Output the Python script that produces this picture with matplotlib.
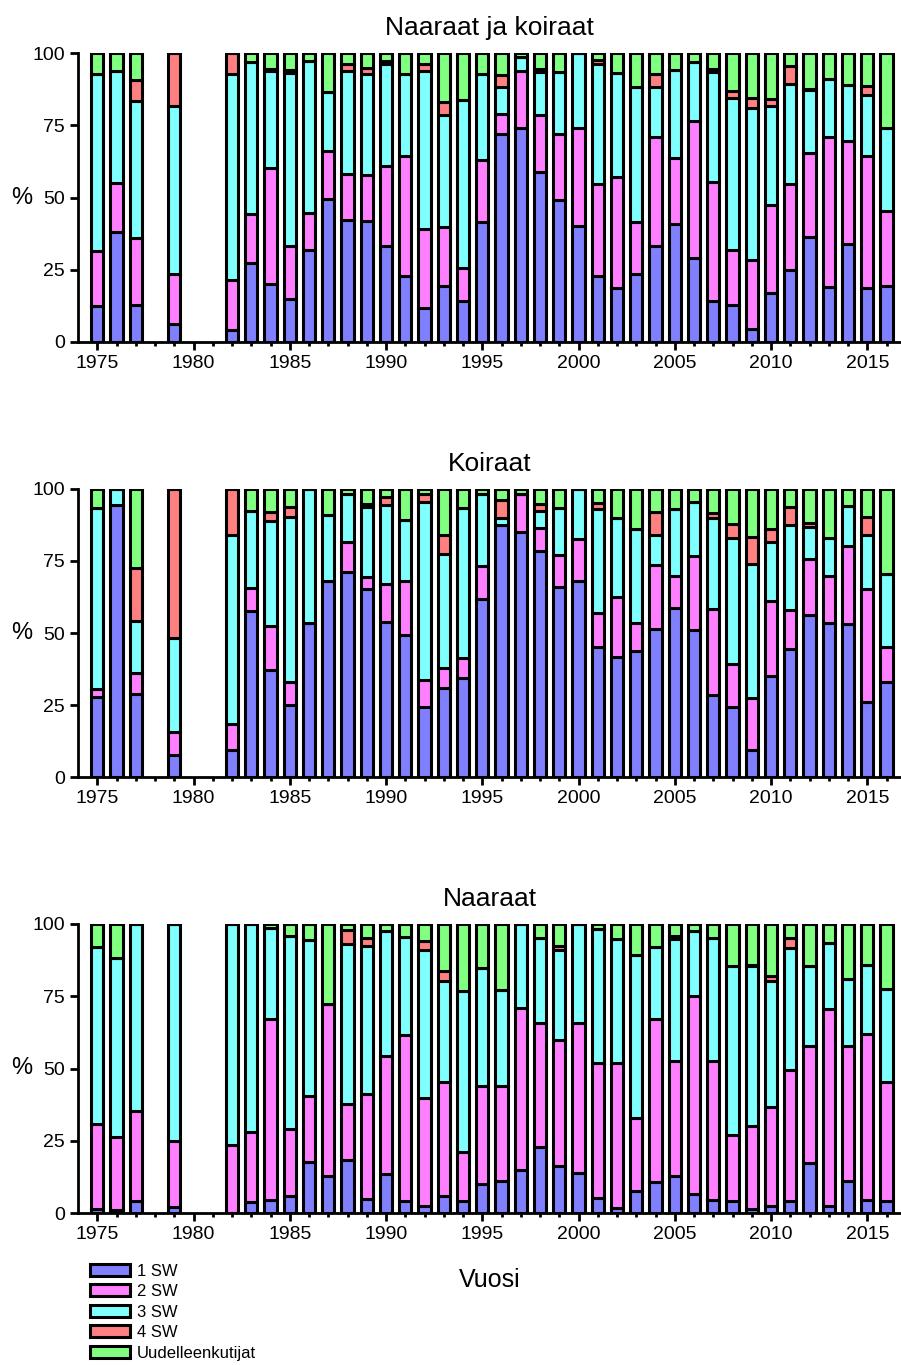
import numpy as np
import matplotlib
matplotlib.use("Agg")
import matplotlib.pyplot as plt

plt.rcParams['font.family'] = ['Liberation Sans', 'DejaVu Sans']

years = [1975, 1976, 1977, 1979, 1982, 1983, 1984, 1985, 1986, 1987, 1988, 1989,
         1990, 1991, 1992, 1993, 1994, 1995, 1996, 1997, 1998, 1999, 2000, 2001,
         2002, 2003, 2004, 2005, 2006, 2007, 2008, 2009, 2010, 2011, 2012, 2013,
         2014, 2015, 2016]

labels = ["1 SW", "2 SW", "3 SW", "4 SW", "Uudelleenkutijat"]
colors = ["#8080ff", "#ff80ff", "#80ffff", "#ff8080", "#80ff80"]
titles = ["Naaraat ja koiraat", "Koiraat", "Naaraat"]

# Naaraat ja koiraat (%)
all_sw1 = [12.5, 38.2, 12.7, 6.1, 4.3, 27.2, 20.2, 14.9, 32.0, 49.4, 42.2, 41.7,
           33.3, 23.0, 11.9, 19.3, 14.2, 41.6, 71.9, 74.2, 58.7, 49.0, 40.1, 23.0,
           18.8, 23.4, 33.1, 40.9, 29.1, 14.1, 12.8, 4.5, 16.8, 24.9, 36.2, 19.1,
           33.8, 18.7, 19.3]
all_sw2 = [19.1, 16.7, 23.3, 17.3, 17.1, 17.1, 40.1, 18.3, 12.5, 16.7, 16.1, 16.2,
           27.7, 41.4, 27.1, 20.4, 11.5, 21.4, 7.1, 19.4, 20.0, 23.0, 34.1, 31.7,
           38.2, 18.1, 37.8, 22.6, 47.4, 41.4, 19.1, 23.9, 30.7, 29.7, 29.3, 51.8,
           35.9, 45.7, 26.1]
all_sw3 = [61.3, 38.7, 47.5, 58.1, 71.5, 52.6, 33.5, 59.9, 52.6, 20.4, 35.5, 35.0,
           35.3, 28.5, 54.6, 38.7, 58.0, 29.8, 9.4, 4.9, 14.7, 21.3, 25.8, 41.5,
           36.2, 46.8, 17.3, 30.7, 20.5, 37.8, 52.5, 52.5, 34.0, 34.6, 21.8, 20.1,
           19.1, 20.9, 28.8]
all_sw4 = [0, 0, 7.0, 18.5, 7.1, 0, 0.8, 1.1, 0, 0, 2.5, 1.9,
           0.9, 0, 2.7, 4.8, 0, 0, 4.1, 0, 1.1, 0, 0, 1.3,
           0, 0, 4.4, 0, 0, 1.0, 2.3, 3.5, 2.5, 6.2, 0.3, 0,
           0, 3.4, 0]
all_rep = [7.1, 6.4, 9.5, 0, 0, 3.1, 5.4, 5.8, 2.9, 13.5, 3.7, 5.2,
           2.8, 7.1, 3.7, 16.8, 16.3, 7.2, 7.5, 1.5, 5.5, 6.7, 0, 2.5,
           6.8, 11.7, 7.4, 5.8, 3.0, 5.7, 13.3, 15.6, 16.0, 4.6, 12.4, 9.0,
           11.2, 11.3, 25.8]

# Koiraat (%)
m_sw1 = [27.7, 94.5, 28.9, 7.7, 9.5, 57.7, 37.3, 24.9, 53.4, 68.1, 71.1, 65.3,
         53.8, 49.4, 24.3, 31.0, 34.3, 61.7, 87.5, 85.2, 78.6, 66.1, 67.9, 45.0,
         41.8, 43.6, 51.4, 58.6, 50.9, 28.6, 24.2, 9.5, 35.1, 44.5, 56.3, 53.4,
         53.2, 26.0, 32.9]
m_sw2 = [2.9, 0, 7.1, 7.8, 8.9, 7.8, 15.0, 8.0, 0, 0, 10.6, 4.1,
         13.1, 18.8, 9.3, 6.8, 6.9, 11.7, 0, 13.0, 7.8, 11.0, 14.8, 12.1,
         20.6, 9.8, 22.2, 11.3, 25.9, 29.8, 15.0, 17.9, 26.1, 13.4, 19.3, 16.4,
         27.0, 39.3, 12.4]
m_sw3 = [62.8, 5.5, 18.0, 32.7, 65.6, 27.0, 36.7, 57.5, 46.6, 22.7, 16.7, 24.4,
         27.6, 21.0, 61.8, 39.5, 52.3, 24.9, 2.6, 0, 6.0, 16.2, 17.3, 36.0,
         27.4, 32.6, 10.4, 23.2, 18.8, 31.4, 43.9, 46.7, 20.5, 29.6, 11.3, 13.1,
         14.0, 18.7, 25.2]
m_sw4 = [0, 0, 18.7, 51.8, 16.0, 0, 3.1, 3.4, 0, 0, 0, 1.1,
         2.6, 0, 2.8, 6.6, 0, 0, 6.1, 0, 2.5, 0, 0, 1.9,
         0, 0, 7.9, 0, 0, 2.0, 4.9, 9.1, 4.4, 6.1, 1.2, 0,
         0, 6.2, 0]
m_rep = [6.6, 0, 27.3, 0, 0, 7.5, 7.9, 6.2, 0, 9.2, 1.6, 5.1,
         2.9, 10.8, 1.8, 16.1, 6.5, 1.7, 3.8, 1.8, 5.1, 6.7, 0, 5.0,
         10.2, 14.0, 8.1, 6.9, 4.4, 8.2, 12.0, 16.8, 13.9, 6.4, 11.9, 17.1,
         5.8, 9.8, 29.5]

# Naaraat (%)
f_sw1 = [1.4, 0.9, 4.0, 2.1, 0, 3.9, 4.6, 5.8, 17.6, 12.7, 18.5, 4.8,
         13.6, 4.2, 2.3, 6.0, 4.0, 10.1, 11.0, 15.0, 22.7, 16.1, 13.8, 5.2,
         1.7, 7.5, 10.6, 12.9, 6.6, 4.4, 4.0, 1.4, 2.5, 4.0, 17.3, 2.3,
         11.2, 4.4, 4.0]
f_sw2 = [29.5, 25.4, 31.2, 22.9, 23.4, 24.1, 62.5, 23.3, 23.0, 59.7, 19.2, 36.4,
         40.6, 57.5, 37.6, 39.2, 17.0, 33.7, 33.1, 55.9, 43.0, 43.9, 51.9, 46.7,
         50.2, 25.4, 56.5, 39.6, 68.4, 48.1, 23.1, 28.6, 34.2, 45.6, 40.4, 68.3,
         46.7, 57.5, 41.2]
f_sw3 = [61.0, 61.8, 64.8, 75.0, 76.6, 72.0, 31.4, 66.6, 53.7, 0, 55.4, 51.1,
         43.5, 33.8, 51.0, 35.0, 55.9, 41.0, 33.2, 29.1, 29.5, 31.1, 34.3, 46.5,
         42.9, 56.5, 24.9, 42.4, 22.5, 42.7, 58.3, 55.4, 43.7, 42.1, 27.9, 22.8,
         23.1, 23.8, 32.3]
f_sw4 = [0, 0, 0, 0, 0, 0, 0, 0, 0, 0, 4.7, 2.9,
         0, 0, 3.1, 3.4, 0, 0, 0, 0, 0, 1.2, 0, 0,
         0, 0, 0, 1.1, 0, 0, 0, 0.5, 1.5, 3.5, 0, 0,
         0, 0, 0]
f_rep = [8.1, 11.9, 0, 0, 0, 0, 1.5, 4.3, 5.7, 27.6, 2.2, 4.8,
         2.3, 4.5, 6.0, 16.4, 23.1, 15.2, 22.7, 0, 4.8, 7.7, 0, 1.6,
         5.2, 10.6, 8.0, 4.0, 2.5, 4.8, 14.6, 14.1, 18.1, 4.8, 14.4, 6.6,
         19.0, 14.3, 22.5]

panels = [
    [all_sw1, all_sw2, all_sw3, all_sw4, all_rep],
    [m_sw1, m_sw2, m_sw3, m_sw4, m_rep],
    [f_sw1, f_sw2, f_sw3, f_sw4, f_rep],
]

W, H = 901, 1365
fig = plt.figure(figsize=(W / 100, H / 100), dpi=100)

# axes boxes in pixels: (left, top, right, bottom)
boxes = [(78, 53, 901, 342), (78, 489, 901, 777), (78, 924, 901, 1213)]

handles = None
for box, series, title in zip(boxes, panels, titles):
    l, t, r, b = box
    ax = fig.add_axes([l / W, 1 - b / H, (r - l) / W, (b - t) / H])
    bottom = np.zeros(len(years))
    hs = []
    for vals, col, lab in zip(series, colors, labels):
        vals = np.array(vals, dtype=float)
        h = ax.bar(years, vals, width=0.64, bottom=bottom, color=col,
                   edgecolor="black", linewidth=2.2, label=lab)
        hs.append(h)
        bottom = bottom + vals
    if handles is None:
        handles = hs
    ax.set_xlim(1974.0, 2016.75)
    ax.set_ylim(0, 100)
    ax.set_yticks([0, 25, 50, 75, 100])
    ax.set_xticks(np.arange(1975, 2016, 5))
    ax.set_xticks(np.arange(1975, 2017, 1), minor=True)
    ax.tick_params(axis="both", which="major", direction="out", length=6,
                   width=2, labelsize=14)
    ax.tick_params(axis="x", which="minor", direction="out", length=3, width=2)
    ax.spines["top"].set_visible(False)
    ax.spines["right"].set_visible(False)
    ax.spines["left"].set_linewidth(2)
    ax.spines["bottom"].set_linewidth(2)
    ax.set_title(title, fontsize=19, pad=13)
    ax.set_ylabel("%", rotation=0, fontsize=17, va="center")
    ax.yaxis.set_label_coords(-0.068, 0.5)

fig.text(490 / W, 1 - 1280 / H, "Vuosi", ha="center", va="center", fontsize=18)

fig.legend(handles=handles, labels=labels, loc="upper left",
           bbox_to_anchor=(83 / W, 1 - 1257 / H), frameon=False, fontsize=12,
           handlelength=2.4, handleheight=0.7, labelspacing=0.33,
           handletextpad=0.45, borderaxespad=0)

fig.savefig("out.png", dpi=100)
